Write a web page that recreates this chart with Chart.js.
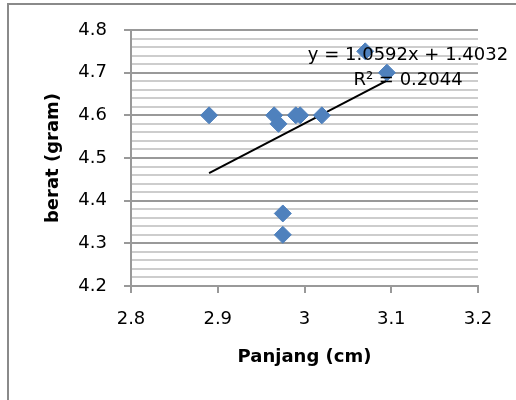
<!DOCTYPE html>
<html>
<head>
<meta charset="utf-8">
<script src="https://cdn.jsdelivr.net/npm/chart.js"></script>
<style>
  html, body { margin: 0; padding: 0; background: #fff; }
  #wrap { position: relative; width: 516px; height: 400px; overflow: hidden; }
  #frame { position: absolute; left: 7px; top: 3px; width: 700px; height: 700px;
           border-top: 2px solid #8a8a8a; border-left: 2px solid #8a8a8a; }
  #myChart { position: absolute; left: 0; top: 0; }
</style>
</head>
<body>
<div id="wrap">
  <div id="frame"></div>
  <canvas id="myChart" width="516" height="400"></canvas>
</div>
<script>
// data
var panjang = [2.89, 2.965, 2.97, 2.975, 2.975, 2.99, 2.995, 3.02, 3.07, 3.095];
var berat   = [4.6, 4.6, 4.58, 4.37, 4.32, 4.6, 4.6, 4.6, 4.75, 4.7];

// trendline as printed on the chart
var slope = 1.0592;
var intercept = 1.4032;
var rSquared = 0.2044;

var xTicks = [2.8, 2.9, 3, 3.1, 3.2];
var yTicks = [4.2, 4.3, 4.4, 4.5, 4.6, 4.7, 4.8];

var majorGrid = "#999999";
var minorGrid = "#cdcdcd";

function isMajor(v){
  return Math.abs(v * 10 - Math.round(v * 10)) < 1e-6;
}
function fmt(v){
  return String(Math.round(v * 10) / 10);
}

var points = [];
for (var i = 0; i < panjang.length; i++) {
  points.push({x: panjang[i], y: berat[i]});
}
var xMin = Math.min.apply(null, panjang);
var xMax = Math.max.apply(null, panjang);
var trend = [
  {x: xMin, y: slope * xMin + intercept},
  {x: xMax, y: slope * xMax + intercept}
];

// equation label, drawn on top like excel does
var eqLabel = {
  id: "eqLabel",
  afterDatasetsDraw: function(chart){
    var c = chart.ctx, a = chart.chartArea;
    c.save();
    c.fillStyle = "#000";
    c.font = "18px 'DejaVu Sans'";
    c.textAlign = "center";
    c.textBaseline = "middle";
    var cx = a.right - 70;
    c.fillText("y = " + slope.toFixed(4) + "x + " + intercept.toFixed(4), cx, a.top + 25);
    c.fillText("R\u00b2 = " + rSquared.toFixed(4), cx, a.top + 50);
    c.restore();
  }
};

Chart.defaults.font.family = "'DejaVu Sans'";
Chart.defaults.font.size = 18;
Chart.defaults.color = "#000";

var ctx = document.getElementById("myChart").getContext("2d");
var chart = new Chart(ctx, {
  type: "scatter",
  data: {
    datasets: [
      {
        label: "berat",
        data: points,
        pointStyle: "rectRot",
        pointRadius: 8.5,
        pointHoverRadius: 8.5,
        backgroundColor: "#4f81bd",
        borderColor: "#4f81bd",
        borderWidth: 1
      },
      {
        label: "trend",
        type: "line",
        data: trend,
        borderColor: "#000",
        borderWidth: 2,
        pointRadius: 0,
        fill: false
      }
    ]
  },
  options: {
    responsive: false,
    animation: false,
    events: [],
    layout: { padding: { top: 30, right: 38, left: 0, bottom: 0 } },
    plugins: { legend: { display: false }, tooltip: { enabled: false } },
    scales: {
      x: {
        type: "linear",
        min: xTicks[0],
        max: xTicks[xTicks.length - 1],
        afterFit: function(s){ s.height = 114; },
        ticks: { stepSize: 0.1, autoSkip: false, padding: 16, callback: function(v){ return fmt(v); } },
        grid: { drawOnChartArea: false, tickLength: 7, color: majorGrid, lineWidth: 2 },
        border: { color: majorGrid, width: 2 },
        title: { display: true, text: "Panjang (cm)", font: { weight: "bold", size: 18 }, padding: { top: 0, bottom: 32 } }
      },
      y: {
        min: yTicks[0],
        max: yTicks[yTicks.length - 1],
        afterFit: function(s){ s.width = 131; },
        ticks: {
          stepSize: 0.02, maxTicksLimit: 40, autoSkip: false, padding: 17,
          callback: function(v){ return isMajor(v) ? fmt(v) : ""; }
        },
        grid: {
          tickLength: 7,
          lineWidth: 2,
          color: function(c){ return c.tick && isMajor(c.tick.value) ? majorGrid : minorGrid; },
          tickColor: function(c){ return c.tick && isMajor(c.tick.value) ? majorGrid : "rgba(0,0,0,0)"; }
        },
        border: { color: majorGrid, width: 2 },
        title: { display: true, text: "berat (gram)", font: { weight: "bold", size: 18 }, padding: { top: 43, bottom: 0 } }
      }
    }
  },
  plugins: [eqLabel]
});
</script>
</body>
</html>
